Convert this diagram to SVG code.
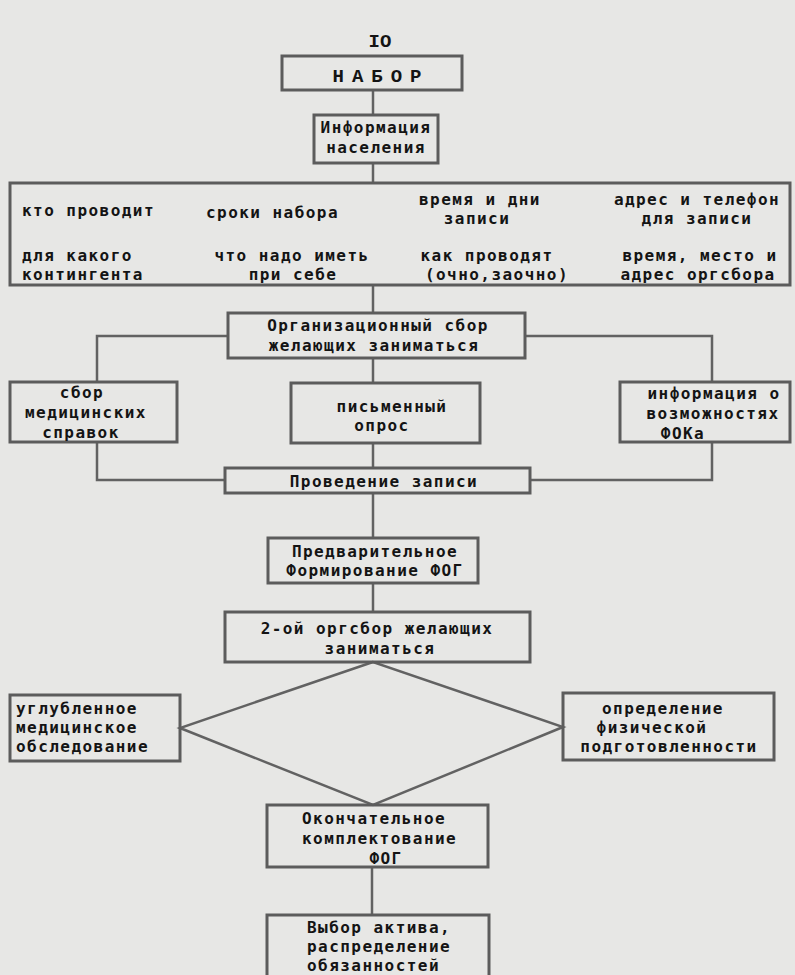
<svg xmlns="http://www.w3.org/2000/svg" width="795" height="975" viewBox="0 0 795 975">
<style>
.bg{fill:#e7e7e5}
.box{fill:none;stroke:#5c5c5c;stroke-width:3}
.ln{fill:none;stroke:#626262;stroke-width:2.5}
text{font-family:"DejaVu Sans Mono","Liberation Mono",monospace;font-weight:bold;font-size:16px;letter-spacing:1.45px;fill:#141414}
.c{text-anchor:middle}
.ser{font-family:"Liberation Mono","DejaVu Sans Mono",monospace;font-size:19px;letter-spacing:0}
.wide{letter-spacing:8px}
</style>
<rect class="bg" x="0" y="0" width="795" height="975"/>
<text class="c ser" x="380" y="47">IO</text>
<g id="connectors">
<path class="ln" d="M373 90V115"/>
<path class="ln" d="M373 163V183"/>
<path class="ln" d="M373 285V313"/>
<path class="ln" d="M228 336H97V382"/>
<path class="ln" d="M525 336H712V382"/>
<path class="ln" d="M373 358V383"/>
<path class="ln" d="M97 442V480H225"/>
<path class="ln" d="M712 442V480H530"/>
<path class="ln" d="M373 443V468"/>
<path class="ln" d="M373 493V538"/>
<path class="ln" d="M373 583V612"/>
<path class="ln" d="M373 662L180 728L373 805L563 727Z"/>
<path class="ln" d="M372 867V915"/>
</g>
<g id="nabor">
<rect class="box" x="282" y="56" width="180" height="34"/>
<text class="c ser wide" x="381" y="82">НАБОР</text>
</g>
<g id="info">
<rect class="box" x="314" y="115" width="124" height="48"/>
<text class="c" x="376" y="133">Информация</text>
<text class="c" x="376" y="153">населения</text>
</g>
<g id="details">
<rect class="box" x="10" y="183" width="780" height="102"/>
<text x="22" y="216">кто проводит</text>
<text x="206" y="218">сроки набора</text>
<text class="c" x="480" y="205">время и дни</text>
<text class="c" x="477" y="224">записи</text>
<text class="c" x="697" y="205">адрес и телефон</text>
<text class="c" x="697" y="224">для записи</text>
<text x="22" y="261">для какого</text>
<text x="22" y="280">контингента</text>
<text class="c" x="292" y="261">что надо иметь</text>
<text class="c" x="293" y="280">при себе</text>
<text class="c" x="487" y="261">как проводят</text>
<text class="c" x="497" y="280">(очно,заочно)</text>
<text class="c" x="700" y="261">время, место и</text>
<text class="c" x="698" y="280">адрес оргсбора</text>
</g>
<g id="orgsbor">
<rect class="box" x="228" y="313" width="297" height="45"/>
<text class="c" x="378" y="331">Организационный сбор</text>
<text class="c" x="374" y="351">желающих заниматься</text>
</g>
<g id="spravki">
<rect class="box" x="10" y="382" width="167" height="60"/>
<text class="c" x="82" y="398">сбор</text>
<text class="c" x="86" y="418">медицинских</text>
<text class="c" x="81" y="438">справок</text>
</g>
<g id="opros">
<rect class="box" x="291" y="383" width="189" height="60"/>
<text class="c" x="392" y="412">письменный</text>
<text class="c" x="382" y="431">опрос</text>
</g>
<g id="fok">
<rect class="box" x="620" y="382" width="170" height="60"/>
<text class="c" x="714" y="399">информация о</text>
<text class="c" x="713" y="419">возможностях</text>
<text class="c" x="683" y="439">ФОКа</text>
</g>
<g id="zapis">
<rect class="box" x="225" y="468" width="305" height="25"/>
<text class="c" x="384" y="487">Проведение записи</text>
</g>
<g id="predv">
<rect class="box" x="268" y="538" width="210" height="45"/>
<text class="c" x="375" y="557">Предварительное</text>
<text class="c" x="375" y="576">Формирование ФОГ</text>
</g>
<g id="orgsbor2">
<rect class="box" x="225" y="612" width="305" height="50"/>
<text class="c" x="377" y="634">2-ой оргсбор желающих</text>
<text class="c" x="380" y="654">заниматься</text>
</g>
<g id="medobsl">
<rect class="box" x="10" y="695" width="170" height="66"/>
<text x="16" y="714">углубленное</text>
<text x="16" y="733">медицинское</text>
<text x="16" y="752">обследование</text>
</g>
<g id="fizpodg">
<rect class="box" x="563" y="693" width="211" height="67"/>
<text class="c" x="663" y="714">определение</text>
<text class="c" x="652" y="733">физической</text>
<text class="c" x="669" y="752">подготовленности</text>
</g>
<g id="okonch">
<rect class="box" x="267" y="805" width="221" height="62"/>
<text x="302" y="824">Окончательное</text>
<text x="302" y="844">комплектование</text>
<text class="c" x="386" y="864">ФОГ</text>
</g>
<g id="vybor">
<rect class="box" x="267" y="915" width="222" height="62"/>
<text x="307" y="933">Выбор актива,</text>
<text x="307" y="952">распределение</text>
<text x="307" y="971">обязанностей</text>
</g>
</svg>
